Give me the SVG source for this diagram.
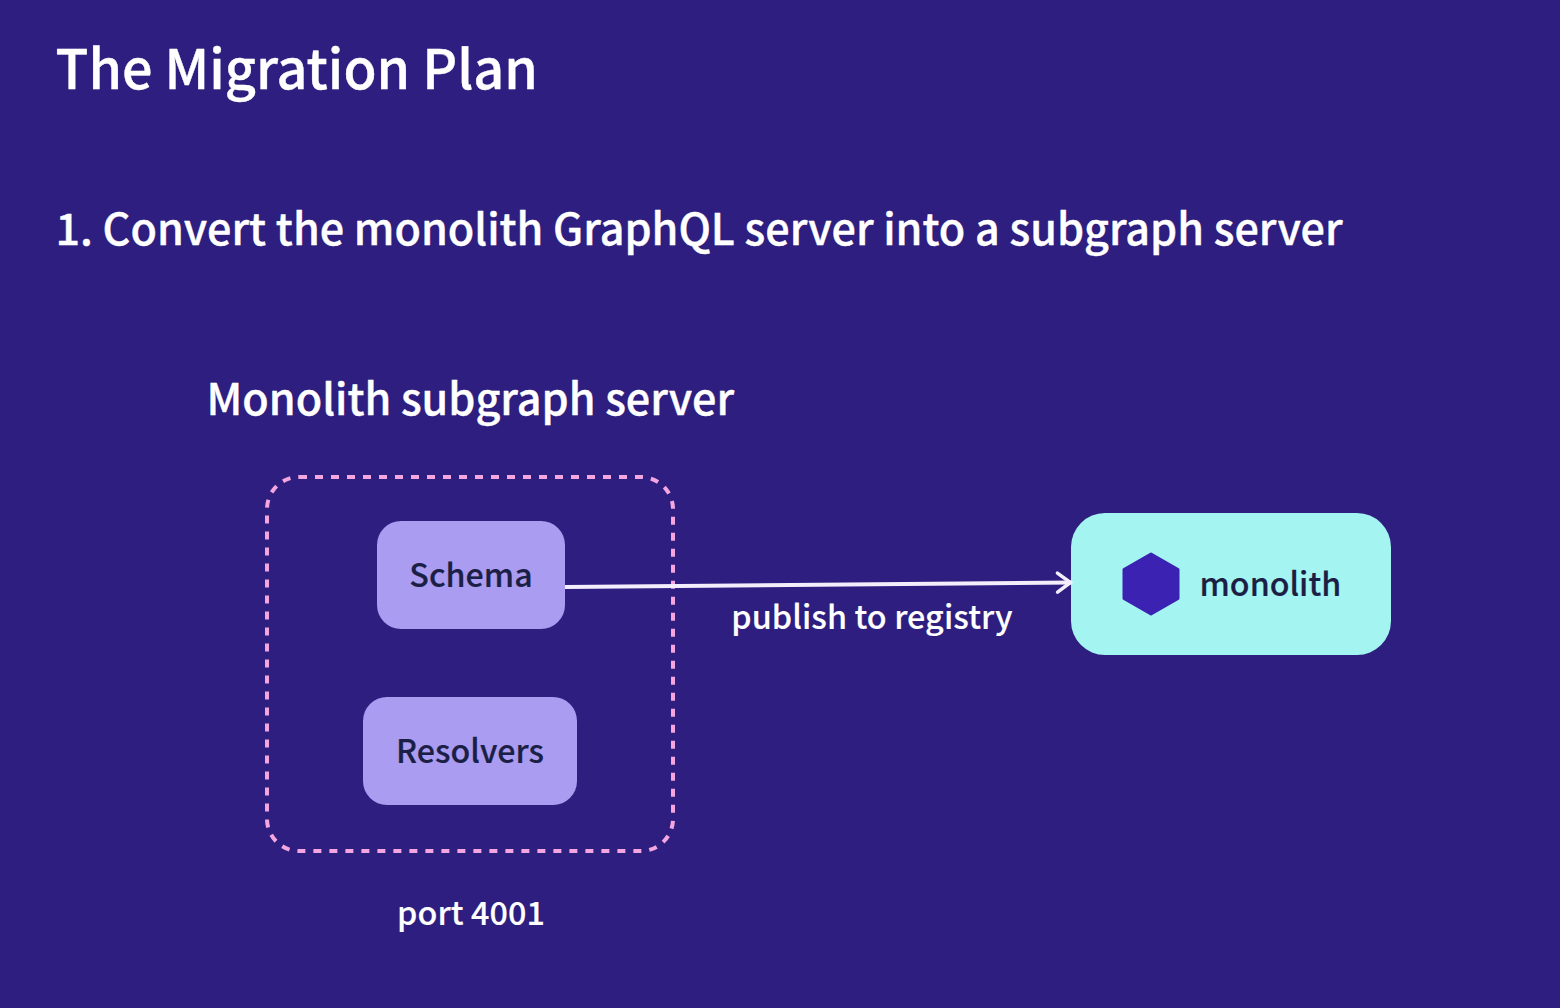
<svg xmlns="http://www.w3.org/2000/svg" width="1560" height="1008" viewBox="0 0 1560 1008">
<style>
text{font-family:"Noto Sans CJK SC","Noto Sans",sans-serif;font-weight:500;stroke-linejoin:round}
.w{fill:#fff;stroke:#fff;stroke-width:.4}.d{fill:#1b1f45;stroke:#1b1f45;stroke-width:.2}
.s{stroke-width:.15;letter-spacing:.1px}
</style>
<defs><marker id="a" markerUnits="userSpaceOnUse" markerWidth="20" markerHeight="26" refX="17" refY="13" orient="auto"><path d="M3.500 3.500L16.500 13L3.500 22.500" fill="none" stroke="#f4eefc" stroke-width="3.500" stroke-linecap="round"/></marker></defs>
<rect width="1560" height="1008" fill="#2d1e7f"/>
<text class="w" x="55.500" y="89" font-size="53.900">The Migration Plan</text>
<text class="w" x="55.500" y="245" font-size="43.100">1. Convert the monolith GraphQL server into a subgraph server</text>
<text class="w" x="206.500" y="415" font-size="43.100">Monolith subgraph server</text>
<g id="server"><rect x="267" y="477" width="406" height="374" rx="32" fill="none" stroke="#f3a6e0" stroke-width="4" stroke-dasharray="8 8"/></g>
<g id="schema"><rect x="377" y="521" width="188" height="108" rx="24" fill="#a99cf1"/><text class="d" x="471" y="587" font-size="32.200" text-anchor="middle">Schema</text></g>
<g id="resolvers"><rect x="363" y="697" width="214" height="108" rx="24" fill="#a99cf1"/><text class="d" x="470" y="763" font-size="32.200" text-anchor="middle">Resolvers</text></g>
<g id="monolith"><rect x="1071" y="513" width="320" height="142" rx="34" fill="#a4f5f2"/><path d="M1151 554L1178 569.500V598.500L1151 614L1124 598.500V569.500Z" fill="#3b22b3" stroke="#3b22b3" stroke-linejoin="round" stroke-width="3"/><text class="d" x="1199.500" y="596" font-size="32.200">monolith</text></g>
<g id="connectors"><path d="M565 587L1071 582.500" fill="none" stroke="#f4eefc" stroke-width="4" marker-end="url(#a)"/></g>
<text class="w s" x="872" y="629" font-size="32.300" text-anchor="middle">publish to registry</text>
<text class="w s" x="471" y="925" font-size="32.300" text-anchor="middle">port 4001</text>
</svg>
